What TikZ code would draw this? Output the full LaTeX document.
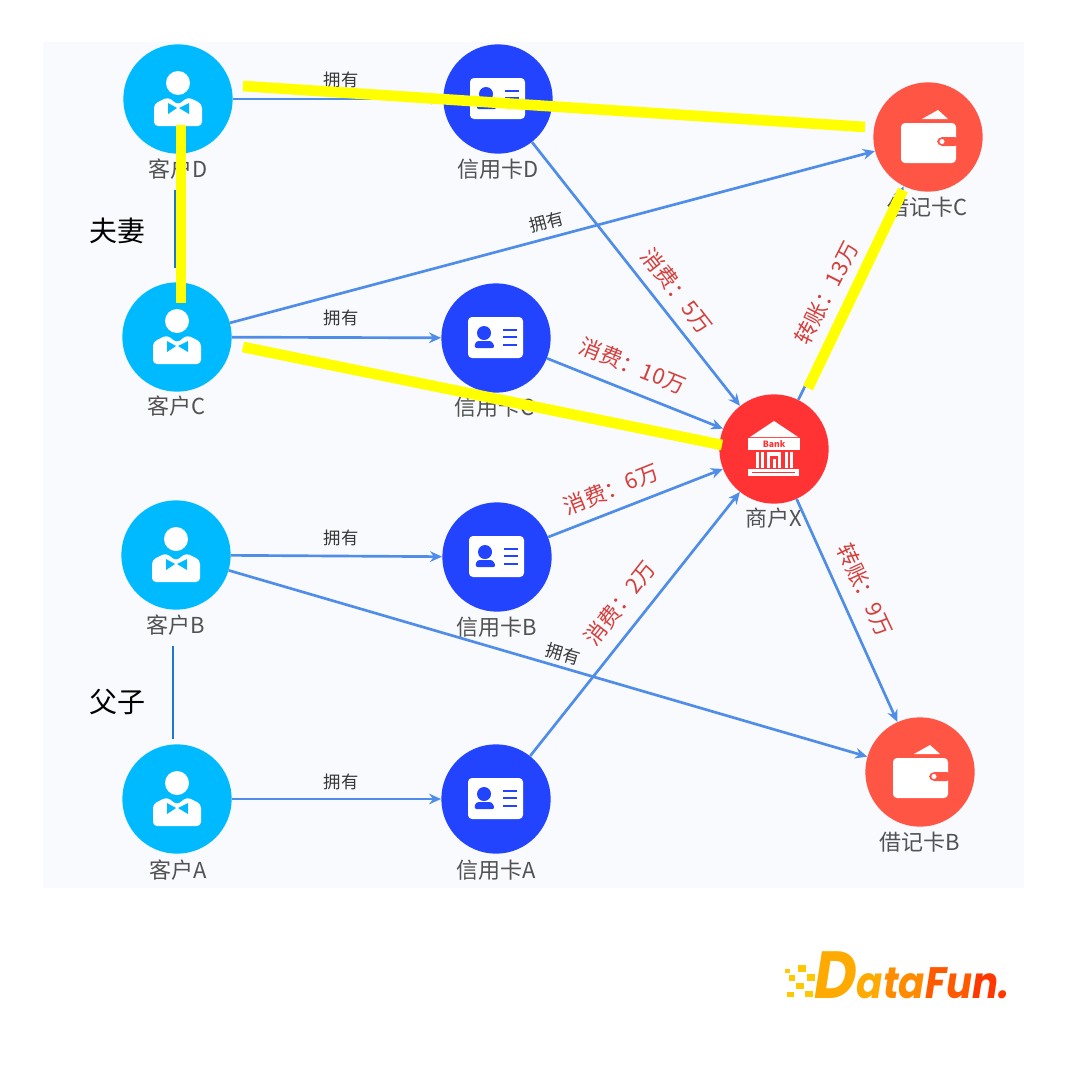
\documentclass[tikz,border=0pt]{standalone}
\usepackage{fontspec}
\setmainfont{Noto Sans CJK SC}
\newfontfamily\logofont{Poppins}
\usetikzlibrary{positioning,arrows.meta}
\definecolor{panelbg}{RGB}{248,250,254}
\definecolor{custcyan}{RGB}{0,186,255}
\definecolor{cardblue}{RGB}{34,68,255}
\definecolor{walletred}{RGB}{255,85,69}
\definecolor{bankred}{RGB}{255,51,51}
\definecolor{linkblue}{RGB}{79,141,232}
\definecolor{relblue}{RGB}{30,120,205}
\definecolor{moneyred}{RGB}{214,64,60}
\definecolor{marker}{RGB}{255,255,0}
\definecolor{logoa}{RGB}{255,200,0}
\definecolor{logob}{RGB}{255,170,0}
\definecolor{logoc}{RGB}{255,140,0}
\definecolor{logod}{RGB}{255,90,0}
\definecolor{logoe}{RGB}{255,55,0}

\begin{document}
\begin{tikzpicture}[x=0.75pt,y=-0.75pt,
  disc/.style={circle,inner sep=0pt,minimum size=82pt},
  custnode/.style={disc,fill=custcyan},
  cardnode/.style={disc,fill=cardblue},
  walletnode/.style={disc,fill=walletred},
  banknode/.style={disc,fill=bankred},
  caption/.style={font=\fontsize{16.5}{18}\selectfont,text=black!68},
  owns/.style={font=\fontsize{13}{14}\selectfont,text=black!78},
  money/.style={font=\fontsize{16.5}{18}\selectfont,text=moneyred},
  relation/.style={font=\fontsize{21}{24}\selectfont,text=black},
  link/.style={-{Stealth[length=9pt,width=8pt]},linkblue,line width=2pt},
  relline/.style={relblue,line width=1.5pt},
  highlight/.style={marker,line width=8pt},
  pics/personicon/.style={code={
    \fill[white] (0,-16) circle (12);
    \fill[white,rounded corners=3pt] (-24,27) -- (-24,5) -- (-10,-2) -- (0,6) -- (10,-2) -- (24,5) -- (24,27) -- cycle;
    \fill[custcyan] (-10,4) -- (-1,9) -- (-10,15) -- cycle;
    \fill[custcyan] (11,4) -- (1,9) -- (11,15) -- cycle;
  }},
  pics/cardicon/.style={code={
    \fill[white,rounded corners=3pt] (-28,-21) rectangle (27,20);
    \fill[cardblue] (-12,-5) circle (7);
    \fill[cardblue,rounded corners=2pt] (-22,10) -- (-20,3) -- (-4,3) -- (-1,10) -- cycle;
    \foreach \ly in {-8,-1,7} \draw[cardblue,line width=1.3pt] (7,\ly) -- (21,\ly);
  }},
  pics/walleticon/.style={code={
    \fill[white] (-6,-18) -- (10,-27) -- (20,-18) -- cycle;
    \fill[white,rounded corners=3pt] (-27,-14) rectangle (28,26);
    \fill[walletred,rounded corners=4pt] (9,0) rectangle (32,9);
    \fill[white] (14,4.5) circle (2.5);
  }},
  pics/bankicon/.style={code={
    \fill[white] (-24,-12) -- (0,-28) -- (24,-12) -- cycle;
    \fill[white] (-26,-11) rectangle (26,1);
    \foreach \cx in {-17,-12,12,17} \fill[white] (\cx-1.5,3) rectangle (\cx+1.5,19);
    \fill[white] (-7,3) rectangle (7,19);
    \fill[bankred] (-4,7) rectangle (4,19);
    \fill[white] (-1.5,10) rectangle (1.5,19);
    \fill[white] (-26,20) rectangle (25,27);
    \draw[bankred,line width=.5pt] (-22,23.5) -- (21,23.5);
  }}
]
\useasboundingbox (0,0) rectangle (1080,1074);
\fill[panelbg] (43,42) rectangle (1024,888);

% Customers
\node[custnode] (custD) at (178,99) {};
\node[custnode] (custC) at (177,337) {};
\node[custnode] (custB) at (176,555) {};
\node[custnode] (custA) at (177,799) {};
\pic at (custD) {personicon};
\pic at (custC) {personicon};
\pic at (custB) {personicon};
\pic at (custA) {personicon};
\node[caption] (capD) at (178,169) {客户D};
\node[caption] (capC) at (177,406) {客户C};
\node[caption] (capB) at (176,625) {客户B};
\node[caption] (capA) at (178,870) {客户A};

% Credit cards
\node[cardnode] (cardD) at (498,99) {};
\node[cardnode] (cardC) at (496,338) {};
\node[cardnode] (cardB) at (497,557) {};
\node[cardnode] (cardA) at (496,799) {};
\pic at (cardD) {cardicon};
\pic at (cardC) {cardicon};
\pic at (cardB) {cardicon};
\pic at (cardA) {cardicon};
\node[caption] (capcardD) at (498,169) {信用卡D};
\node[caption] (capcardC) at (495,407) {信用卡C};
\node[caption] (capcardB) at (497,627) {信用卡B};
\node[caption] (capcardA) at (496,870) {信用卡A};

% Debit cards and merchant
\node[walletnode] (debitC) at (928,137) {};
\node[walletnode] (debitB) at (920,772) {};
\pic at (debitC) {walleticon};
\pic at (debitB) {walleticon};
\node[caption] (capdebitC) at (928,207) {借记卡C};
\node[caption] (capdebitB) at (920,842) {借记卡B};
\node[banknode] (shop) at (774,449) {};
\pic at (shop) {bankicon};
\node[font=\fontsize{6.5}{7}\selectfont\bfseries,text=bankred,inner sep=0pt] (banktext) at (774,444) {Bank};
\node[caption] (capshop) at (774,518) {商户X};

% Ownership
\draw[link] (custD) -- (cardD);
\draw[link] (custC) -- (cardC);
\draw[link] (custB) -- (cardB);
\draw[link] (custA) -- (cardA);
\draw[link] (custC) -- (debitC);
\draw[link] (custB) -- (debitB);
\node[owns] (ownD) at (341,80) {拥有};
\node[owns] (ownC) at (341,318) {拥有};
\node[owns] (ownB) at (341,538) {拥有};
\node[owns] (ownA) at (341,782) {拥有};
\node[owns,rotate=15] (ownCC) at (547,222) {拥有};
\node[owns,rotate=-16] (ownBB) at (563,654) {拥有};

% Payments
\draw[link] (cardD) -- (shop);
\draw[link] (cardC) -- (shop);
\draw[link] (cardB) -- (shop);
\draw[link] (cardA) -- (shop);
\draw[link] (shop) -- (debitC);
\draw[link] (shop) -- (debitB);
\node[money,rotate=-52] (payD) at (677,291) {消费：5万};
\node[money,rotate=-22] (payC) at (633,366) {消费：10万};
\node[money,rotate=22] (payB) at (611,489) {消费：6万};
\node[money,rotate=52] (payA) at (620,603) {消费：2万};
\node[money,rotate=63] (moveC) at (827,293) {转账：13万};
\node[money,rotate=-65] (moveB) at (865,590) {转账：9万};

% Family relations
\coordinate (wifetop) at (175,190);
\coordinate (wifeend) at (175,268);
\coordinate (sontop) at (173,646);
\coordinate (sonend) at (173,739);
\draw[relline] (wifetop) -- (wifeend);
\draw[relline] (sontop) -- (sonend);
\node[relation] (couple) at (117,231) {夫妻};
\node[relation] (father) at (117,702) {父子};

% Marker strokes
\coordinate (markA) at (243,86);
\coordinate (markB) at (865,127);
\coordinate (markC) at (181,125);
\coordinate (markD) at (181,303);
\coordinate (markE) at (243,347);
\coordinate (markF) at (722,445);
\coordinate (markG) at (903,190);
\coordinate (markH) at (808,388);
\draw[highlight] (markA) -- (markB);
\draw[highlight] (markC) -- (markD);
\draw[highlight] (markE) -- (markF);
\draw[highlight] (markG) -- (markH);

% Logo
\foreach \sx/\sy/\sw/\sh in {785/969/5/4,798/965/8/7,789/975/6/6,807/974/8/7,796/983/8/6,787/992/7/5,805/991/8/6}
  \fill[logoa] (\sx,\sy) rectangle ++(\sw,\sh);
\node[anchor=base west,inner sep=0pt,xscale=.88,transform shape,font=\logofont\bfseries\itshape] (logo) at (814,998)
  {\fontsize{50}{50}\selectfont\textcolor{logob}{D}\fontsize{33}{33}\selectfont\textcolor{logob}{a}\textcolor{logoc}{ta}\textcolor{logod}{Fu}\textcolor{logoe}{n.}};
\end{tikzpicture}
\end{document}
